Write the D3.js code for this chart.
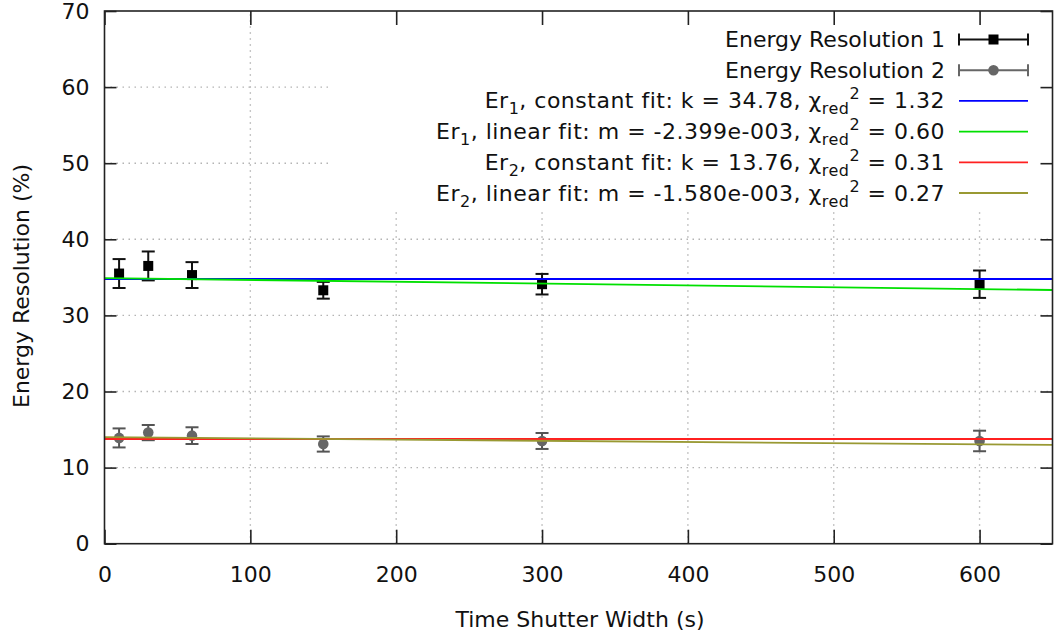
<!DOCTYPE html>
<html>
<head>
<meta charset="utf-8">
<script src="https://cdn.jsdelivr.net/npm/d3@7"></script>
<style>
  html, body { margin: 0; padding: 0; background: #fff; }
  svg { display: block; font-family: "DejaVu Sans", sans-serif; }
</style>
</head>
<body>
<svg id="chart" width="1054" height="639"></svg>
<script>
// Shutter widths (s) and measured energy resolutions (%)
const shutter = [10, 30, 60, 150, 300, 600];
const er1 = [35.5, 36.5, 35.3, 33.3, 34.1, 34.1];
const er1Err = [1.9, 1.9, 1.7, 1.1, 1.35, 1.8];
const er2 = [13.9, 14.6, 14.2, 13.1, 13.5, 13.5];
const er2Err = [1.25, 1.0, 1.1, 1.0, 1.05, 1.35];

// Fit results
const constK = [34.78, 13.76];
const linM = [-2.399e-3, -1.580e-3];
const linB = [34.9, 14.0];
const chiRed = [1.32, 0.60, 0.31, 0.27];

// Axis ticks
const xTicks = [0, 100, 200, 300, 400, 500, 600];
const yTicks = [0, 10, 20, 30, 40, 50, 60, 70];

const svg = d3.select("#chart");
const pLeft = 104.5, pRight = 1052.5, pTop = 11, pBottom = 543.7;
const x = d3.scaleLinear().domain([0, 650]).range([pLeft, pRight]);
const y = d3.scaleLinear().domain([0, 70]).range([pBottom, pTop]);

const FS = 22;

// grid
const grid = svg.append("g").attr("stroke", "#b4b4b4").attr("stroke-width", 1.4)
  .attr("stroke-dasharray", "1.5,4.5");
grid.selectAll("line.v").data(xTicks.filter(d => d > 0)).join("line").attr("class", "v")
  .attr("x1", d => x(d)).attr("x2", d => x(d)).attr("y1", pBottom).attr("y2", pTop);
grid.selectAll("line.h").data(yTicks.filter(d => d > 0 && d < 70)).join("line").attr("class", "h")
  .attr("x1", pLeft).attr("x2", pRight).attr("y1", d => y(d)).attr("y2", d => y(d));

// key background hides the grid behind it
svg.append("rect").attr("x", 330).attr("y", pTop).attr("width", pRight - 330).attr("height", 208 - pTop)
  .attr("fill", "#fff");

// error bar series
function drawSeries(vals, errs, color, barColor, shape) {
  const g = svg.append("g");
  const cap = 6.5;
  shutter.forEach((s, i) => {
    const cx = x(s), y0 = y(vals[i] - errs[i]), y1 = y(vals[i] + errs[i]);
    g.append("line").attr("x1", cx).attr("x2", cx).attr("y1", y0).attr("y2", y1)
      .attr("stroke", barColor).attr("stroke-width", 2);
    [y0, y1].forEach(yy => g.append("line").attr("x1", cx - cap).attr("x2", cx + cap)
      .attr("y1", yy).attr("y2", yy).attr("stroke", barColor).attr("stroke-width", 2));
    if (shape === "square") {
      g.append("rect").attr("x", cx - 5).attr("y", y(vals[i]) - 5).attr("width", 10).attr("height", 10)
        .attr("fill", color);
    } else {
      g.append("circle").attr("cx", cx).attr("cy", y(vals[i])).attr("r", 5.3).attr("fill", color);
    }
  });
}
drawSeries(er1, er1Err, "#000", "#111", "square");
drawSeries(er2, er2Err, "#666", "#555", "circle");

// fit lines
const fitColors = ["#0000ff", "#00e000", "#ff2020", "#999933"];
const fitFns = [
  () => constK[0],
  t => linB[0] + linM[0] * t,
  () => constK[1],
  t => linB[1] + linM[1] * t
];
const fitLine = d3.line().x(d => x(d[0])).y(d => y(d[1]));
fitFns.forEach((f, i) => {
  svg.append("path").attr("d", fitLine([0, 650].map(t => [t, f(t)])))
    .attr("fill", "none").attr("stroke", fitColors[i]).attr("stroke-width", 1.8);
});

// axes (ticks point inward on all four sides)
const axisStyle = g => {
  g.select(".domain").remove();
  g.selectAll(".tick line").attr("stroke", "#222").attr("stroke-width", 1.6);
  g.selectAll("text").attr("font-size", FS).attr("font-family", "DejaVu Sans").attr("fill", "#111");
};
svg.append("g").attr("transform", `translate(0,${pBottom})`)
  .call(d3.axisBottom(x).tickValues(xTicks).tickSize(-14).tickPadding(23)).call(axisStyle);
svg.append("g").attr("transform", `translate(0,${pTop})`)
  .call(d3.axisTop(x).tickValues(xTicks).tickSize(-14).tickFormat("")).call(axisStyle);
svg.append("g").attr("transform", `translate(${pLeft},0)`)
  .call(d3.axisLeft(y).tickValues(yTicks).tickSize(-12).tickPadding(15)).call(axisStyle);
svg.append("g").attr("transform", `translate(${pRight},0)`)
  .call(d3.axisRight(y).tickValues(yTicks).tickSize(-12).tickFormat("")).call(axisStyle);

svg.append("rect").attr("x", pLeft).attr("y", pTop).attr("width", pRight - pLeft).attr("height", pBottom - pTop)
  .attr("fill", "none").attr("stroke", "#222").attr("stroke-width", 1.6);

// axis titles
svg.append("text").attr("x", 580).attr("y", 627).attr("text-anchor", "middle")
  .attr("font-size", FS).attr("fill", "#111").text("Time Shutter Width (s)");
svg.append("text").attr("transform", "translate(29,286) rotate(-90)").attr("text-anchor", "middle")
  .attr("font-size", FS).attr("fill", "#111").text("Energy Resolution (%)");

// key labels with sub/superscripts: "_x" / "_{..}" lowered, "^x" raised
function richText(sel, str) {
  const re = /([_^])(\{[^}]*\}|.)/g;
  const parts = [];
  let last = 0, m;
  while ((m = re.exec(str)) !== null) {
    if (m.index > last) parts.push({ text: str.slice(last, m.index), shift: 0 });
    const content = m[2].startsWith("{") ? m[2].slice(1, -1) : m[2];
    parts.push({ text: content, shift: m[1] === "_" ? 6 : -9 });
    last = re.lastIndex;
  }
  if (last < str.length) parts.push({ text: str.slice(last), shift: 0 });
  let cur = 0;
  parts.forEach(p => {
    const ts = sel.append("tspan").text(p.text);
    if (p.shift !== cur) { ts.attr("dy", p.shift - cur); cur = p.shift; }
    if (p.shift !== 0) ts.attr("font-size", 16);
  });
}

const fmtExp = v => v.toExponential(3).replace(/e([+-])(\d+)$/, (s, sg, d) => "e" + sg + d.padStart(3, "0"));
const keyLabels = [
  "Energy Resolution 1",
  "Energy Resolution 2",
  `Er_1, constant fit: k = ${constK[0].toFixed(2)}, χ_{red}^2 = ${chiRed[0].toFixed(2)}`,
  `Er_1, linear fit: m = ${fmtExp(linM[0])}, χ_{red}^2 = ${chiRed[1].toFixed(2)}`,
  `Er_2, constant fit: k = ${constK[1].toFixed(2)}, χ_{red}^2 = ${chiRed[2].toFixed(2)}`,
  `Er_2, linear fit: m = ${fmtExp(linM[1])}, χ_{red}^2 = ${chiRed[3].toFixed(2)}`
];
const keyRowY = i => 39.5 + i * 30.7;
const sx0 = 959, sx1 = 1028, smid = (sx0 + sx1) / 2;
keyLabels.forEach((lab, i) => {
  const ty = keyRowY(i);
  const t = svg.append("text").attr("x", 945).attr("y", ty + 7.5).attr("text-anchor", "end")
    .attr("font-size", FS).attr("fill", "#111");
  if (i >= 2) t.attr("letter-spacing", 0.5);
  richText(t, lab);
  if (i < 2) {
    const c = i === 0 ? "#111" : "#666";
    svg.append("line").attr("x1", sx0).attr("x2", sx1).attr("y1", ty).attr("y2", ty)
      .attr("stroke", c).attr("stroke-width", 2);
    [sx0, sx1].forEach(xx => svg.append("line").attr("x1", xx).attr("x2", xx)
      .attr("y1", ty - 6).attr("y2", ty + 6).attr("stroke", c).attr("stroke-width", 2));
    if (i === 0) svg.append("rect").attr("x", smid - 5).attr("y", ty - 5).attr("width", 10).attr("height", 10).attr("fill", "#000");
    else svg.append("circle").attr("cx", smid).attr("cy", ty).attr("r", 5.3).attr("fill", "#666");
  } else {
    svg.append("line").attr("x1", sx0).attr("x2", sx1).attr("y1", ty).attr("y2", ty)
      .attr("stroke", fitColors[i - 2]).attr("stroke-width", 1.8);
  }
});
</script>
</body>
</html>
